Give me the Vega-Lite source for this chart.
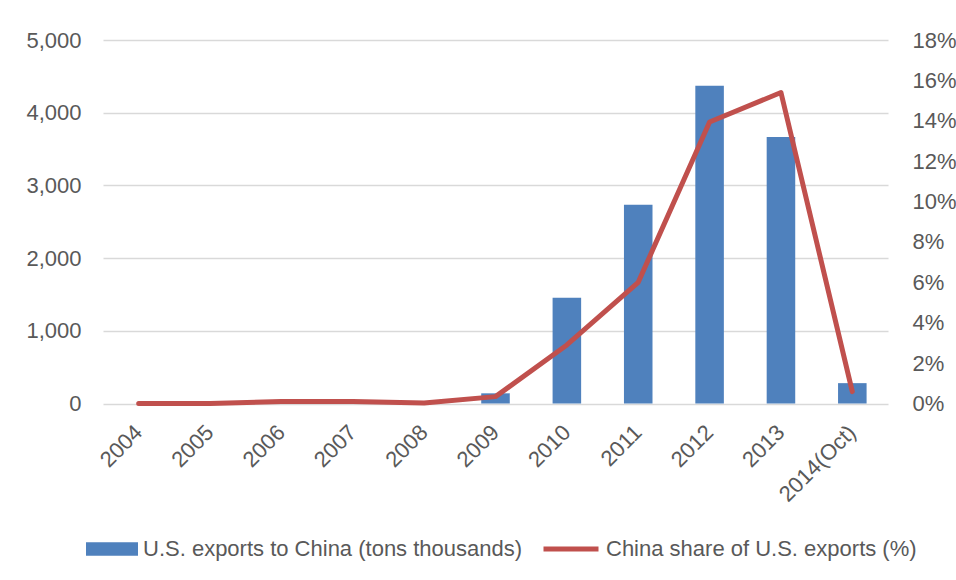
{
  "$schema": "https://vega.github.io/schema/vega-lite/v6.json",
  "width": 785,
  "height": 363.5,
  "autosize": {"type": "none"},
  "padding": {"left": 103, "top": 40, "right": 68, "bottom": 176.5},
  "background": "#ffffff",
  "config": {
    "view": {"stroke": null},
    "font": "Liberation Sans",
    "axis": {
      "labelFont": "Liberation Sans",
      "labelFontSize": 22,
      "labelColor": "#595959",
      "ticks": false,
      "tickSize": 0,
      "domain": false,
      "title": null,
      "gridColor": "#D9D9D9",
      "gridWidth": 1.3
    },
    "legend": {
      "labelFont": "Liberation Sans",
      "labelFontSize": 22,
      "labelColor": "#595959",
      "labelLimit": 0,
      "padding": 0,
      "labelOffset": 5,
      "title": null
    }
  },
  "data": {
    "values": [
      {"year": "2004", "exports": 0, "share": 0.0},
      {"year": "2005", "exports": 0, "share": 0.0},
      {"year": "2006", "exports": 0, "share": 0.001},
      {"year": "2007", "exports": 0, "share": 0.001},
      {"year": "2008", "exports": 0, "share": 0.0002},
      {"year": "2009", "exports": 140, "share": 0.0034},
      {"year": "2010", "exports": 1455, "share": 0.029},
      {"year": "2011", "exports": 2735, "share": 0.06},
      {"year": "2012", "exports": 4370, "share": 0.1394},
      {"year": "2013", "exports": 3665, "share": 0.154},
      {"year": "2014(Oct)", "exports": 280, "share": 0.0059}
    ]
  },
  "encoding": {
    "x": {
      "field": "year",
      "type": "nominal",
      "sort": null,
      "scale": {"paddingInner": 0.6, "paddingOuter": 0.3},
      "axis": {"labelAngle": -45, "labelAlign": "right", "labelBaseline": "middle", "labelPadding": 25, "grid": false}
    }
  },
  "layer": [
    {
      "mark": {"type": "bar"},
      "encoding": {
        "y": {
          "field": "exports",
          "type": "quantitative",
          "scale": {"domain": [0, 5000], "nice": false},
          "axis": {"values": [0, 1000, 2000, 3000, 4000, 5000], "format": ",.0f", "labelPadding": 22, "grid": true}
        },
        "fill": {
          "datum": "U.S. exports to China (tons thousands)",
          "type": "nominal",
          "scale": {"range": ["#4F81BD"]},
          "legend": {
            "orient": "none",
            "legendX": -17,
            "legendY": 483,
            "symbolType": "M-1,-0.26H1V0.26H-1Z",
            "symbolSize": 2704,
            "symbolStrokeWidth": 0,
            "symbolOpacity": 1
          }
        }
      }
    },
    {
      "mark": {"type": "line", "strokeWidth": 5, "strokeCap": "round", "strokeJoin": "round"},
      "encoding": {
        "y": {
          "field": "share",
          "type": "quantitative",
          "scale": {"domain": [0, 0.18], "nice": false},
          "axis": {"orient": "right", "values": [0, 0.02, 0.04, 0.06, 0.08, 0.1, 0.12, 0.14, 0.16, 0.18], "format": ".0%", "labelPadding": 24, "grid": false}
        },
        "stroke": {
          "datum": "China share of U.S. exports (%)",
          "type": "nominal",
          "scale": {"range": ["#C0504D"]},
          "legend": {
            "orient": "none",
            "legendX": 438,
            "legendY": 479,
            "symbolType": "stroke",
            "symbolSize": 3025,
            "symbolStrokeWidth": 5
          }
        }
      }
    }
  ],
  "resolve": {"scale": {"y": "independent"}}
}
